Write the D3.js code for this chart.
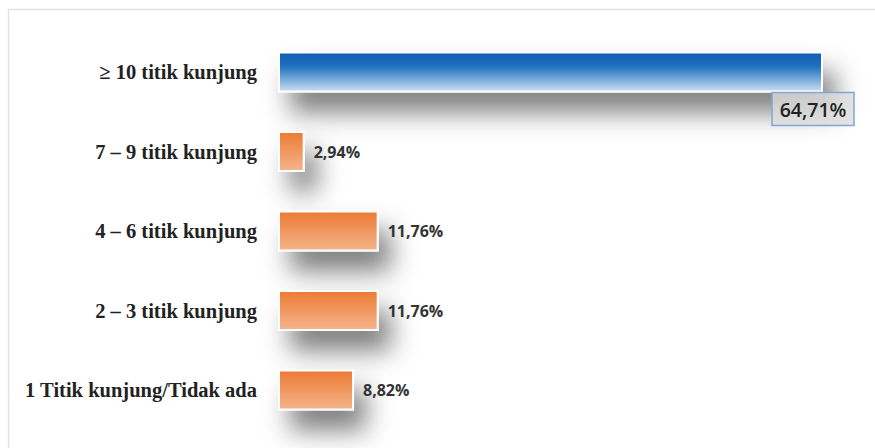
<!DOCTYPE html>
<html>
<head>
<meta charset="utf-8">
<script src="https://cdn.jsdelivr.net/npm/d3@7"></script>
<style>
  body { margin: 0; background: white; }
</style>
</head>
<body>
<div id="container"></div>
<script>
// data
let categories = ["≥ 10 titik kunjung", "7 – 9 titik kunjung", "4 – 6 titik kunjung", "2 – 3 titik kunjung", "1 Titik kunjung/Tidak ada"];
let values = [64.71, 2.94, 11.76, 11.76, 8.82];
let valueLabels = ["64,71%", "2,94%", "11,76%", "11,76%", "8,82%"];

let W = 875, H = 448;
let barLeft = 279;
let barH = 39;

let viz = d3.select("#container")
  .append("svg")
    .attr("width", W)
    .attr("height", H)
    .style("background-color", "white")
;

let defs = viz.append("defs");

// blue gradient for the top bar
let blue = defs.append("linearGradient")
  .attr("id", "blueGrad")
  .attr("x1", 0).attr("y1", 0).attr("x2", 0).attr("y2", 1);
blue.append("stop").attr("offset", "0%").attr("stop-color", "#0f5fb3");
blue.append("stop").attr("offset", "35%").attr("stop-color", "#1f6fbf");
blue.append("stop").attr("offset", "100%").attr("stop-color", "#cadff3");

let orange = defs.append("linearGradient")
  .attr("id", "orangeGrad")
  .attr("x1", 0).attr("y1", 0).attr("x2", 0).attr("y2", 1);
orange.append("stop").attr("offset", "0%").attr("stop-color", "#ec7a33");
orange.append("stop").attr("offset", "100%").attr("stop-color", "#f5b58c");

// soft shadow, region in page units so narrow bars are not clipped
let shadow = defs.append("filter")
  .attr("id", "shadow")
  .attr("filterUnits", "userSpaceOnUse")
  .attr("x", 0).attr("y", 0)
  .attr("width", W).attr("height", H);
shadow.append("feDropShadow")
  .attr("dx", 12).attr("dy", 20)
  .attr("stdDeviation", 13)
  .attr("flood-color", "#000")
  .attr("flood-opacity", 0.5);

// faint frame
viz.append("path")
  .attr("d", "M8.5,448 V9.5 H875")
  .attr("fill", "none")
  .attr("stroke", "#e2e2e2")
  .attr("stroke-width", 1.5);

let x = d3.scaleLinear()
  .domain([0, 64.71])
  .range([0, 543]);

let y = d3.scalePoint()
  .domain(categories)
  .range([72, 390]);

let rows = categories.map((c, i) => ({ cat: c, val: values[i], lab: valueLabels[i], i: i }));

// bars
viz.selectAll("rect.bar")
  .data(rows)
  .enter()
  .append("rect")
  .attr("class", "bar")
  .attr("x", barLeft)
  .attr("y", d => y(d.cat) - barH / 2)
  .attr("width", d => x(d.val))
  .attr("height", barH)
  .attr("fill", d => d.i == 0 ? "url(#blueGrad)" : "url(#orangeGrad)")
  .attr("stroke", "white")
  .attr("stroke-width", 2)
  .attr("filter", "url(#shadow)")
;

// category labels
viz.selectAll("text.cat")
  .data(rows)
  .enter()
  .append("text")
  .attr("class", "cat")
  .text(d => d.cat)
  .attr("x", 257)
  .attr("y", d => y(d.cat) + 7)
  .attr("text-anchor", "end")
  .attr("font-family", "Liberation Serif, serif")
  .attr("font-weight", "bold")
  .attr("font-size", 20.5)
  .attr("fill", "#222")
;

// value labels (small bars)
viz.selectAll("text.val")
  .data(rows.filter(d => d.i > 0))
  .enter()
  .append("text")
  .attr("class", "val")
  .text(d => d.lab)
  .attr("x", d => barLeft + x(d.val) + 10)
  .attr("y", d => y(d.cat) + 6)
  .attr("font-family", "Open Sans, sans-serif")
  .attr("font-weight", "bold")
  .attr("font-size", 16)
  .attr("fill", "#333")
;

// boxed label for the big bar
let first = rows[0];
let bx = barLeft + x(first.val) - 50;
let by = y(first.cat) + barH / 2 + 1;
viz.append("rect")
  .attr("x", bx)
  .attr("y", by)
  .attr("width", 82)
  .attr("height", 33)
  .attr("fill", "#dcdcdc")
  .attr("fill-opacity", 0.8)
  .attr("stroke", "#7ea6d6")
  .attr("stroke-width", 1.5)
;
viz.append("text")
  .text(first.lab)
  .attr("x", bx + 41)
  .attr("y", by + 24)
  .attr("text-anchor", "middle")
  .attr("font-family", "Open Sans, sans-serif")
  .attr("font-weight", 600)
  .attr("font-size", 19.5)
  .attr("fill", "#222")
;
</script>
</body>
</html>
